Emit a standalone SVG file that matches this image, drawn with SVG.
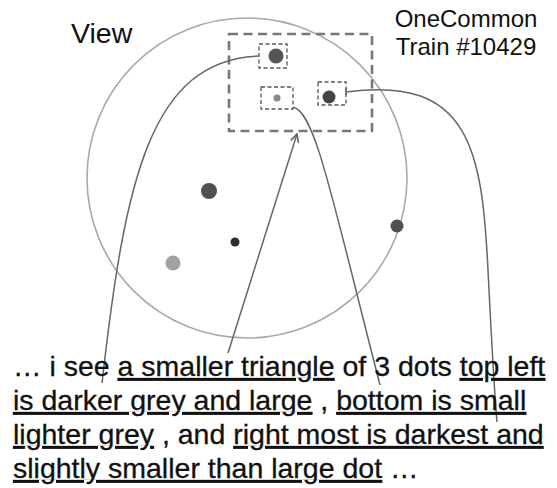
<svg xmlns="http://www.w3.org/2000/svg" width="557" height="488" viewBox="0 0 557 488">
<style>
text{font-family:"Liberation Sans",Arial,sans-serif;fill:#111}
#caption text{stroke:#111;stroke-width:0.3}
.big{fill:none;stroke:#777;stroke-width:2.6;stroke-dasharray:9 5.5}
.box{fill:none;stroke:#555;stroke-width:1.3;stroke-dasharray:4 2.5}
.conn{fill:none;stroke:#666;stroke-width:1.5}
.u{text-decoration:underline;text-decoration-thickness:2.5px;text-underline-offset:3.5px}
</style>
<defs>
<marker id="arr" viewBox="0 0 10 10" refX="9" refY="5" markerWidth="10" markerHeight="10" markerUnits="userSpaceOnUse" orient="auto">
<path d="M1,1 L9,5 L1,9" fill="none" stroke="#666" stroke-width="1.6"/>
</marker>
</defs>
<g id="view-label"><text x="71" y="43" font-size="28.5">View</text></g>
<g id="title"><text x="466" y="27" font-size="24" text-anchor="middle">OneCommon</text><text x="466" y="55" font-size="24" text-anchor="middle">Train #10429</text></g>
<g id="view-circle"><circle cx="247" cy="178" r="160" fill="none" stroke="#aaa" stroke-width="1.6"/></g>
<g id="dots">
<circle cx="209" cy="191" r="8" fill="#505050"/>
<circle cx="235" cy="242" r="4.5" fill="#2e2e2e"/>
<circle cx="173" cy="263" r="7.5" fill="#a2a2a2"/>
<circle cx="397" cy="226" r="6.5" fill="#505050"/>
</g>
<g id="triangle-group"><rect x="229" y="34" width="143" height="97" class="big"/></g>
<g id="dot-top-left"><rect x="259" y="44" width="28" height="24" class="box"/><circle cx="276" cy="56" r="7.5" fill="#555"/></g>
<g id="dot-bottom"><rect x="261" y="87" width="32" height="22" class="box"/><circle cx="277" cy="98" r="3.5" fill="#888"/></g>
<g id="dot-right"><rect x="318" y="82" width="28" height="23" class="box"/><circle cx="329" cy="97" r="6.5" fill="#444"/></g>
<g id="connectors">
<path class="conn" d="M259,56 C150,60 125,180 102,383"/>
<path class="conn" d="M228,353 L297,134" marker-end="url(#arr)"/>
<path class="conn" d="M293,107 C315,112 330,190 380,385"/>
<path class="conn" d="M346,88 L346,95 M346,92 C470,75 482,150 488,270 C492,350 495,400 497,422"/>
</g>
<g id="caption">
<text x="13" y="376" font-size="28.5">… i see <tspan class="u">a smaller triangle</tspan> of 3 dots <tspan class="u">top left</tspan></text>
<text x="13" y="410" font-size="28.5"><tspan class="u">is darker grey and large</tspan> , <tspan class="u">bottom is small</tspan></text>
<text x="13" y="444" font-size="28.5"><tspan class="u">lighter grey</tspan> , and <tspan class="u">right most is darkest and</tspan></text>
<text x="13" y="478" font-size="28.5"><tspan class="u">slightly smaller than large dot</tspan> …</text>
</g>
</svg>
